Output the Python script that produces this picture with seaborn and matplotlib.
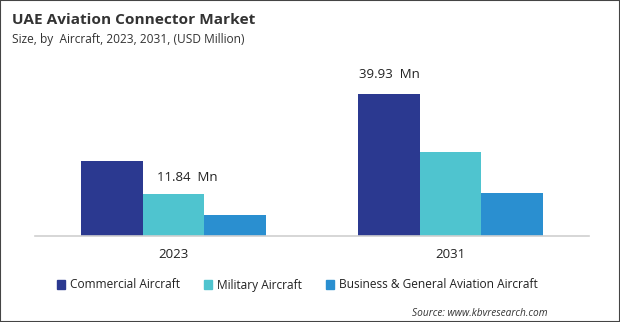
import matplotlib
matplotlib.use("Agg")
import matplotlib.pyplot as plt
import seaborn as sns
import pandas as pd
from matplotlib.patches import Rectangle

years = ["2023", "2031"]
segments = ["Commercial Aircraft", "Military Aircraft", "Business & General Aviation Aircraft"]
commercial = [21.1, 39.93]
military = [11.84, 23.6]
business = [5.9, 12.0]
colors = ["#2B3990", "#4FC4CF", "#2A8FD0"]

rows = []
for seg, vals in zip(segments, [commercial, military, business]):
    for y, v in zip(years, vals):
        rows.append({"Year": y, "Segment": seg, "Value": v})
df = pd.DataFrame(rows)

sns.set_style("white")
plt.rcParams["font.family"] = ["Open Sans", "DejaVu Sans"]

fig = plt.figure(figsize=(6.2, 3.22), dpi=100)
ax = fig.add_axes([35/620, 1-236/322, 554/620, 176/322])

sns.barplot(data=df, x="Year", y="Value", hue="Segment", order=years,
            hue_order=segments, palette=colors, width=0.665, saturation=1,
            linewidth=0, ax=ax, legend=False)

ax.set_xlim(-0.5, 1.5)
ax.set_ylim(0, 176 * 0.281)
ax.set_xlabel("")
ax.set_ylabel("")
ax.set_yticks([])
for s in ["top", "right", "left"]:
    ax.spines[s].set_visible(False)
ax.spines["bottom"].set_color("#D0D0D0")
ax.spines["bottom"].set_linewidth(1.2)
ax.tick_params(axis="x", length=0, pad=9, labelsize=9.5, colors="#222222")

anns = ax.bar_label(ax.containers[1], labels=["11.84  Mn", ""], padding=7,
                    fontsize=9.5, color="#222222")
for a in anns:
    a.xyann = (10, 7)
ax.bar_label(ax.containers[0], labels=["", "39.93  Mn"], padding=9,
             fontsize=9.5, color="#222222")

fig.text(12/620, 1-20/322, "UAE Aviation Connector Market", fontsize=11.1,
         fontweight="bold", color="#333333", va="center", ha="left")
fig.text(12/620, 1-40/322, "Size, by  Aircraft, 2023, 2031, (USD Million)",
         fontsize=8.6, color="#333333", va="center", ha="left")

handles = [Rectangle((0, 0), 1, 1, color=c) for c in colors]
fig.legend(handles, segments, loc="center", bbox_to_anchor=(297/620, 1-285/322),
           ncol=3, frameon=False, fontsize=8.6, handlelength=0.7, handleheight=0.7,
           handletextpad=0.4, columnspacing=2.0, labelcolor="#222222")

fig.text(548/620, 1-313/322, "Source: www.kbvresearch.com", fontsize=7.3,
         style="italic", color="#333333", ha="right", va="center")

fig.patches.append(Rectangle((0, 0), 1, 1, transform=fig.transFigure, fill=False,
                             edgecolor="#444444", linewidth=1.5))

fig.savefig("out.png", dpi=100)
